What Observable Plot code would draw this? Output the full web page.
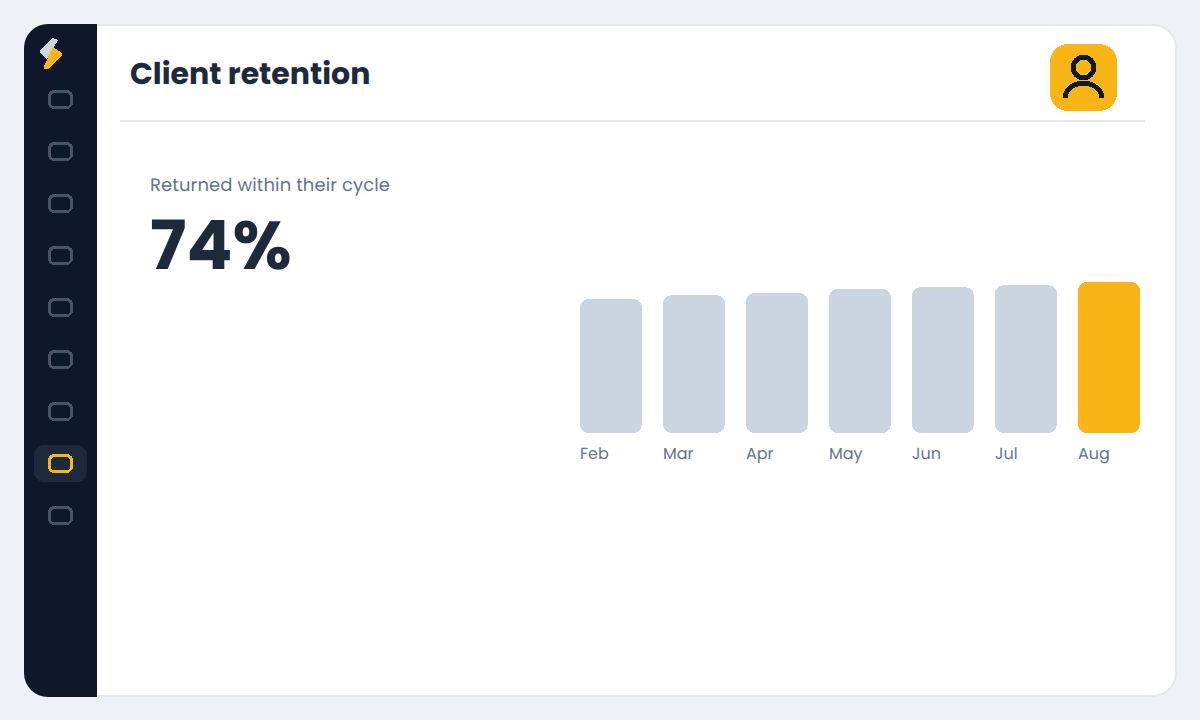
<!doctype html>
<html><head><meta charset="utf-8">
<script src="https://cdn.jsdelivr.net/npm/d3@7"></script>
<script src="https://cdn.jsdelivr.net/npm/@observablehq/plot@0.6"></script>
<style>
html,body{margin:0;padding:0;width:1200px;height:720px;overflow:hidden;background:#eef2f7;font-family:Poppins,Inter,"Noto Sans",sans-serif;text-rendering:geometricPrecision}
.abs{position:absolute;white-space:nowrap}
#card{left:24px;top:24px;width:1149px;height:669px;border:2px solid #e2e8f0;border-radius:24px;background:#fff}
#side{left:24px;top:24px;width:73px;height:673px;background:#0f172a;border-radius:24px 0 0 24px}
#rule{left:120px;top:120px;width:1025px;height:2px;background:#e2e8f0}
#title{left:130px;top:54px;font-size:30px;font-weight:700;line-height:40px;color:#1e293b}
#sub{left:150px;top:174px;font-size:18px;font-weight:400;line-height:24px;letter-spacing:.1px;color:#64748b}
#big{left:150px;top:201px;font-size:68px;font-weight:700;line-height:90px;color:#1e293b}
#deco{left:0;top:0}
#chart{left:0;top:0}
</style></head><body>
<div class="abs" id="card"></div>
<div class="abs" id="side"></div>
<div class="abs" id="rule"></div>
<div class="abs" id="title">Client retention</div>
<div class="abs" id="sub">Returned within their cycle</div>
<div class="abs" id="big">74%</div>
<svg class="abs" id="deco" width="1200" height="720"></svg>
<div class="abs" id="chart"></div>
<script>
const months = ["Feb","Mar","Apr","May","Jun","Jul","Aug"];
const retention = [65.7,67.6,68.6,70.6,71.5,72.5,74];
const highlightMonth = "Aug";
const navCount = 9, activeNav = 7;
const rows = months.map((m,i)=>({month:m,value:retention[i]}));

const chart = Plot.plot({
  width:1200,height:720,
  marginTop:0,marginRight:0,marginBottom:0,marginLeft:0,
  style:{background:"transparent",fontFamily:"Poppins,Inter,'Noto Sans',sans-serif",fontSize:"16px",overflow:"visible"},
  x:{domain:months,range:[580,1140],paddingInner:21/83,paddingOuter:0,align:0,label:null},
  y:{domain:[0,74],range:[433,282],label:null,axis:null},
  marks:[
    Plot.barY(rows,{x:"month",y:"value",rx:9,shapeRendering:"crispEdges",fill:d=>d.month===highlightMonth?"#f9b416":"#cbd5e1"}),
    Plot.axisX({anchor:"bottom",tickSize:0,label:null,textAnchor:"start",dx:-31.5,dy:433-720+5,fill:"#64748b",fontSize:16}),
  ]
});
document.getElementById("chart").appendChild(chart);

const deco=d3.select("#deco");
deco.append("polygon").attr("points","52,38 58,40 47,59 40,53 40,51").attr("fill","#cbd5e1").attr("shape-rendering","crispEdges");
deco.append("polygon").attr("points","53,47 62,53 62,55 49,69 44,69 44,66").attr("fill","#f9b416").attr("shape-rendering","crispEdges");
for(let i=0;i<navCount;i++){
  const cy=99.5+52*i, on=i===activeNav;
  if(on) deco.append("rect").attr("x",34).attr("y",445).attr("width",53).attr("height",37).attr("rx",10).attr("fill","#1e293b").attr("shape-rendering","crispEdges");
  deco.append("rect").attr("x",49.5).attr("y",cy-8).attr("width",22).attr("height",16).attr("rx",5).attr("fill","none")
    .attr("stroke",on?"#f9b416":"#475569").attr("stroke-width",3).attr("shape-rendering","crispEdges");
}
deco.append("rect").attr("x",1050).attr("y",44).attr("width",67).attr("height",67).attr("rx",18).attr("fill","#f9b416").attr("shape-rendering","crispEdges");
deco.append("circle").attr("cx",1083.5).attr("cy",67.5).attr("r",10.25).attr("fill","none").attr("stroke","#0f172a").attr("stroke-width",5).attr("shape-rendering","crispEdges");
deco.append("path").attr("d","M1065.2 97.7 A18.3 14.5 0 0 1 1101.8 97.7").attr("fill","none").attr("stroke","#0f172a").attr("stroke-width",5).attr("shape-rendering","crispEdges");
</script>
</body></html>
